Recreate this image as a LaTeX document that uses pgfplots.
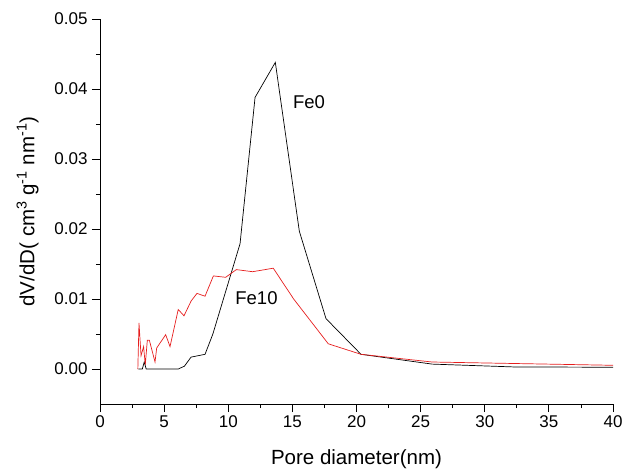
\documentclass[border=0pt]{standalone}
\usepackage{fontspec}
\setmainfont{Liberation Sans}
\usepackage{pgfplots}
\pgfplotsset{compat=1.18}
\definecolor{fered}{RGB}{230,30,30}
\begin{document}
\begin{tikzpicture}
\begin{axis}[
    width=513pt, height=385pt,
    scale only axis,
    xmin=0, xmax=40, ymin=-0.005, ymax=0.05,
    axis x line*=bottom, axis y line*=left,
    tick align=outside,
    xtick={0,5,...,40}, minor x tick num=1,
    ytick={0,0.01,...,0.05}, minor y tick num=1,
    major tick length=8pt, minor tick length=4pt,
    every tick/.style={black, line width=0.8pt},
    axis line style={line width=0.8pt},
    scaled y ticks=false,
    yticklabel style={xshift=-1pt, /pgf/number format/fixed,
      /pgf/number format/fixed zerofill, /pgf/number format/precision=2},
    /pgf/number format/assume math mode=true,
    ticklabel style={font=\fontsize{17}{20}\selectfont},
    label style={font=\fontsize{20.5}{24}\selectfont},
    xlabel={Pore diameter(nm)},
    ylabel={dV/dD( cm\textsuperscript{3} g\textsuperscript{-1} nm\textsuperscript{-1})},
    xlabel style={yshift=-15pt},
    ylabel style={yshift=9pt},
]
% Fe0
\addplot[black, line width=0.7pt] coordinates {
(2.99,0) (3.3,0) (3.45,0.001) (3.6,0) (4.5,0) (6.1,0) (6.58,0.0004) (7.1,0.0017)
(8.19,0.0021) (8.8,0.005) (10.92,0.0179) (12.09,0.0388) (13.67,0.0438)
(15.54,0.0197) (17.62,0.0072) (20.35,0.0021) (25.9,0.0007) (32.2,0.0003) (40,0.00025)
};
% Fe10
\addplot[fered, line width=0.7pt] coordinates {
(2.95,0) (3.04,0.0066) (3.2,0.0019) (3.4,0.0032) (3.53,0.0006) (3.69,0.0041)
(3.85,0.0041) (4.29,0.001) (4.42,0.003) (5.12,0.0049) (5.46,0.0032) (6.1,0.0085)
(6.55,0.0076) (7.1,0.0097) (7.56,0.0108) (8.19,0.0104) (8.84,0.0133) (9.8,0.0131)
(10.63,0.0142) (11.9,0.0139) (13.51,0.0144) (15.1,0.01) (17.8,0.0036)
(20.35,0.0021) (25.9,0.001) (40,0.00053)
};
\node[font=\fontsize{18.5}{22}\selectfont] at (axis cs:16.3,0.0381) {Fe0};
\node[font=\fontsize{18.5}{22}\selectfont] at (axis cs:12.2,0.0101) {Fe10};
\end{axis}
\pgfresetboundingbox
\path[use as bounding box] (current axis.south west) ++(-100pt,-65pt)
  rectangle ([shift={(16pt,19pt)}]current axis.north east);
\end{tikzpicture}
\end{document}
